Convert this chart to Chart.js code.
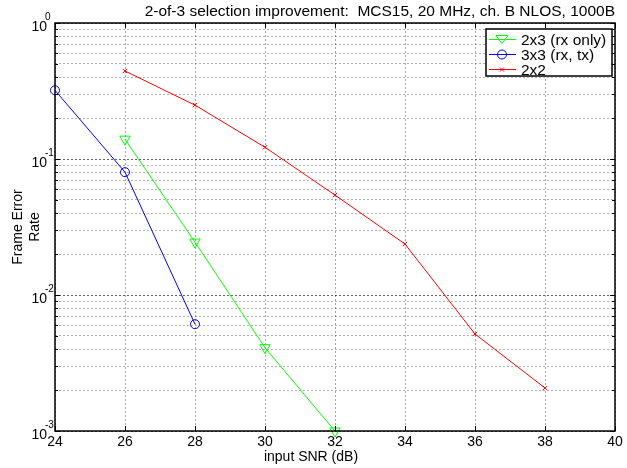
<!DOCTYPE html>
<html>
<head>
<meta charset="utf-8">
<script src="https://cdn.jsdelivr.net/npm/chart.js@4"></script>
<style>
html,body{margin:0;padding:0;background:#fff;}
#wrap{width:627px;height:468px;}
</style>
</head>
<body>
<div id="wrap"><canvas id="c" width="627" height="468"></canvas></div>
<script>
const chartTitle = '2-of-3 selection improvement:  MCS15, 20 MHz, ch. B NLOS, 1000B';
const xLabel = 'input SNR (dB)';
const yLabel = ['Frame Error', 'Rate'];
const xTicks = [24, 26, 28, 30, 32, 34, 36, 38, 40];
const yDecades = [0, -1, -2, -3];

const snr2x3 = [26, 28, 30, 32];
const fer2x3 = [0.140, 0.0245, 0.0041, 0.001];
const snr3x3 = [24, 26, 28];
const fer3x3 = [0.32, 0.080, 0.0061];
const snr2x2 = [26, 28, 30, 32, 34, 36, 38];
const fer2x2 = [0.444, 0.249, 0.122, 0.0543, 0.0237, 0.00517, 0.00207];

const seriesNames = ['2x3 (rx only)', '3x3 (rx, tx)', '2x2'];

const FONT = '"Liberation Sans", Arial, Helvetica, sans-serif';

function pts(xs, ys) { return xs.map((x, i) => ({x: x, y: ys[i]})); }

const overlay = {
  id: 'overlay',
  afterDraw(chart) {
    const ctx = chart.ctx;
    const a = chart.chartArea;
    const xs = chart.scales.x, ys = chart.scales.y;
    ctx.save();
    // tick marks (inward)
    ctx.strokeStyle = '#000';
    ctx.lineWidth = 1;
    ctx.setLineDash([]);
    ctx.beginPath();
    xTicks.forEach(v => {
      const px = Math.round(xs.getPixelForValue(v)) + 0.5;
      ctx.moveTo(px, a.bottom); ctx.lineTo(px, a.bottom - 5);
      ctx.moveTo(px, a.top); ctx.lineTo(px, a.top + 5);
    });
    ys.ticks.forEach(t => {
      const py = Math.round(ys.getPixelForValue(t.value)) + 0.5;
      const len = t.major ? 5 : 3;
      ctx.moveTo(a.left, py); ctx.lineTo(a.left + len, py);
      ctx.moveTo(a.right, py); ctx.lineTo(a.right - len, py);
    });
    ctx.stroke();
    // frame
    ctx.lineWidth = 1.5;
    ctx.strokeRect(a.left, a.top, a.right - a.left, a.bottom - a.top);

    // y tick labels 10^n
    ctx.fillStyle = '#000';
    ctx.textBaseline = 'middle';
    yDecades.forEach(e => {
      const py = ys.getPixelForValue(Math.pow(10, e));
      ctx.font = '14px ' + FONT;
      ctx.textAlign = 'right';
      ctx.fillText('10', a.left - 8, py + 4);
      ctx.font = '10px ' + FONT;
      ctx.textAlign = 'left';
      ctx.fillText(String(e), a.left - 10, py - 6);
    });

    // title
    ctx.font = '15.5px ' + FONT;
    ctx.textAlign = 'right';
    ctx.textBaseline = 'middle';
    ctx.fillText(chartTitle, a.right, a.top - 11);

    // x label
    ctx.font = '14px ' + FONT;
    ctx.textAlign = 'center';
    ctx.fillText(xLabel, a.left + 256, a.bottom + 26);

    // legend
    const lx = a.right - 129, ly = a.top + 6, lw = 126, lh = 47;
    ctx.fillStyle = '#fff';
    ctx.fillRect(lx, ly, lw, lh);
    ctx.strokeStyle = '#000';
    ctx.lineWidth = 1.5;
    ctx.strokeRect(lx, ly, lw, lh);
    chart.data.datasets.forEach((ds, i) => {
      const ry = ly + 10 + i * 15 + 0.5;
      ctx.strokeStyle = ds.borderColor;
      ctx.lineWidth = 1;
      ctx.beginPath();
      ctx.moveTo(lx + 3, ry); ctx.lineTo(lx + 30, ry);
      ctx.stroke();
      const mx = lx + 16;
      ctx.beginPath();
      if (ds.pointStyle === 'circle') {
        ctx.arc(mx, ry, 4.5, 0, Math.PI * 2);
      } else if (ds.pointStyle === 'triangle') {
        ctx.moveTo(mx - 6, ry - 4); ctx.lineTo(mx + 6, ry - 4); ctx.lineTo(mx, ry + 4); ctx.closePath();
      } else {
        ctx.moveTo(mx - 2, ry - 2); ctx.lineTo(mx + 2, ry + 2);
        ctx.moveTo(mx - 2, ry + 2); ctx.lineTo(mx + 2, ry - 2);
      }
      ctx.stroke();
      ctx.fillStyle = '#000';
      ctx.font = '15.5px ' + FONT;
      ctx.textAlign = 'left';
      ctx.textBaseline = 'middle';
      ctx.fillText(ds.label, lx + 35, ry + 1);
    });
    ctx.restore();
  }
};

new Chart(document.getElementById('c'), {
  type: 'line',
  data: {
    datasets: [
      {label: seriesNames[0], data: pts(snr2x3, fer2x3), borderColor: '#00ff00', backgroundColor: 'rgba(0,0,0,0)',
       borderWidth: 1, pointStyle: 'triangle', pointRotation: 180, pointRadius: 6, pointBorderWidth: 1, clip: false},
      {label: seriesNames[1], data: pts(snr3x3, fer3x3), borderColor: '#0000ff', backgroundColor: 'rgba(0,0,0,0)',
       borderWidth: 1, pointStyle: 'circle', pointRadius: 4.5, pointBorderWidth: 1, clip: false},
      {label: seriesNames[2], data: pts(snr2x2, fer2x2), borderColor: '#ff0000', backgroundColor: 'rgba(0,0,0,0)',
       borderWidth: 1, pointStyle: 'crossRot', pointRadius: 3, pointBorderWidth: 1, clip: false}
    ]
  },
  options: {
    responsive: false,
    animation: false,
    devicePixelRatio: 1,
    layout: {padding: {top: 23, right: 12, left: 0, bottom: 0}},
    plugins: {legend: {display: false}, title: {display: false}, tooltip: {enabled: false}},
    elements: {line: {tension: 0}},
    scales: {
      x: {
        type: 'linear', min: 24, max: 40,
        afterBuildTicks: s => { s.ticks = xTicks.map(v => ({value: v})); },
        afterFit: s => { s.height = 37; },
        grid: {color: 'rgba(0,0,0,0.35)', drawTicks: false, lineWidth: 1},
        border: {display: false, dash: [2, 2]},
        ticks: {color: '#000', font: {family: FONT, size: 14}, padding: 3, maxRotation: 0, autoSkip: false}
      },
      y: {
        type: 'logarithmic', min: 0.001, max: 1,
        afterBuildTicks: s => {
          const t = [];
          yDecades.slice().reverse().forEach(e => {
            for (let m = 1; m <= 9; m++) {
              const v = m * Math.pow(10, e);
              if (v <= 1.0000001) t.push({value: v, major: m === 1});
            }
          });
          s.ticks = t;
        },
        afterFit: s => { s.width = 55; },
        grid: {color: ctx => (ctx.tick && ctx.tick.major) ? 'rgba(0,0,0,0.6)' : 'rgba(0,0,0,0.3)', drawTicks: false, lineWidth: 1},
        border: {display: false, dash: [2, 2]},
        ticks: {display: false},
        title: {display: true, text: yLabel, color: '#000', font: {family: FONT, size: 14}, padding: {top: 10, bottom: 0}}
      }
    }
  },
  plugins: [overlay]
});
</script>
</body>
</html>
